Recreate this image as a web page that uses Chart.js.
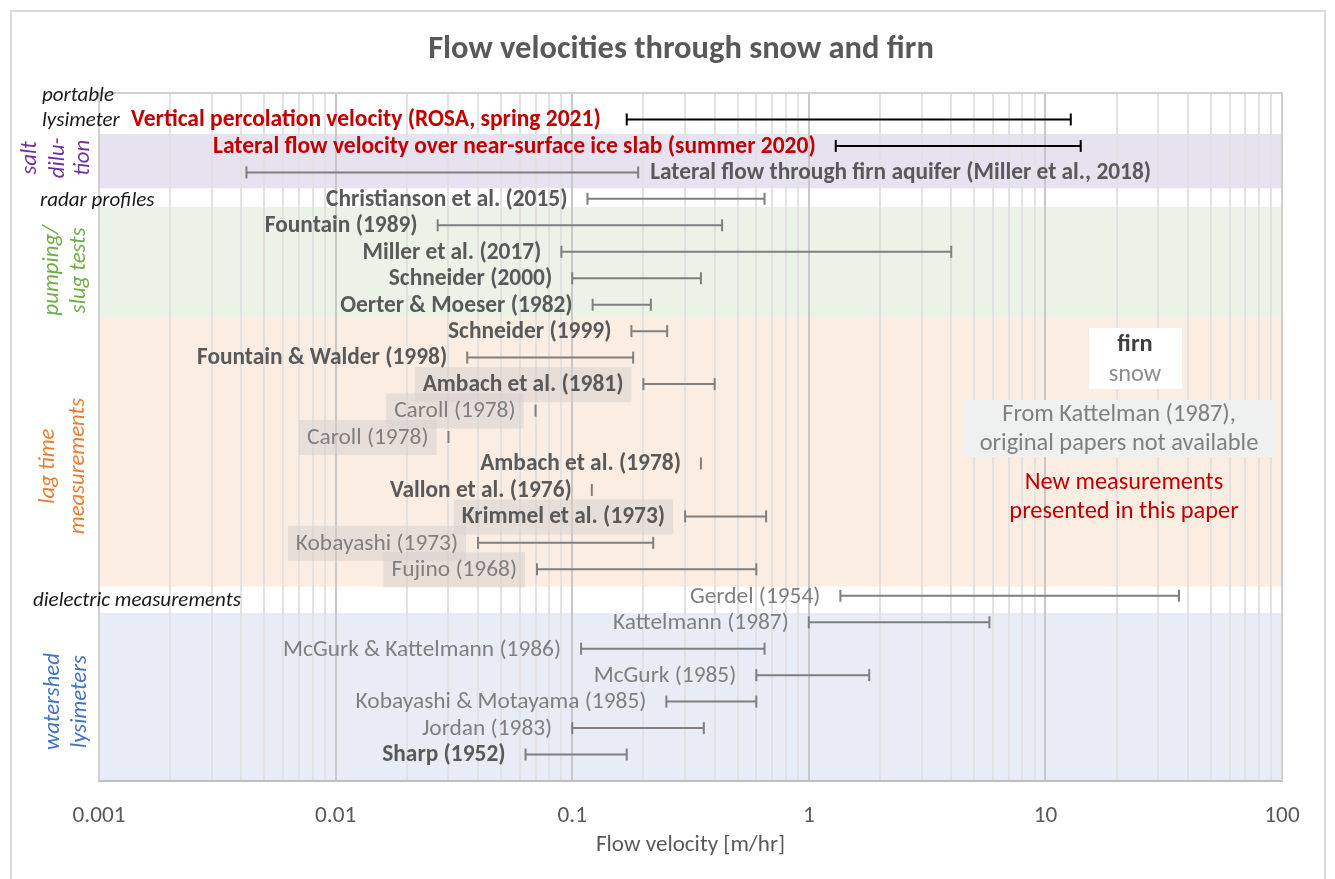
<!DOCTYPE html>
<html>
<head>
<meta charset="utf-8">
<title>Flow velocities through snow and firn</title>
<script src="https://cdn.jsdelivr.net/npm/chart.js@4.4.1/dist/chart.umd.min.js"></script>
<style>
  body { margin: 0; background: #fff; }
  #frame { position: absolute; left: 10px; top: 10px; width: 1316px; height: 900px; border: 2px solid #d9d9d9; box-sizing: border-box; }
  #chart { position: absolute; left: 0; top: 0; }
</style>
</head>
<body>
<div id="frame"></div>
<canvas id="chart" width="1335" height="879"></canvas>
<script>
// --- data (flow velocity in m/hr) ---
const rowLabels = [
  'Vertical percolation velocity (ROSA, spring 2021)',
  'Lateral flow velocity over near-surface ice slab (summer 2020)',
  'Lateral flow through firn aquifer (Miller et al., 2018)',
  'Christianson et al. (2015)',
  'Fountain (1989)',
  'Miller et al. (2017)',
  'Schneider (2000)',
  'Oerter & Moeser (1982)',
  'Schneider (1999)',
  'Fountain & Walder (1998)',
  'Ambach et al. (1981)',
  'Caroll (1978)',
  'Caroll (1978)',
  'Ambach et al. (1978)',
  'Vallon et al. (1976)',
  'Krimmel et al. (1973)',
  'Kobayashi (1973)',
  'Fujino (1968)',
  'Gerdel (1954)',
  'Kattelmann (1987)',
  'McGurk & Kattelmann (1986)',
  'McGurk (1985)',
  'Kobayashi & Motayama (1985)',
  'Jordan (1983)',
  'Sharp (1952)'
];
const lowValues  = [0.17, 1.3, 0.0042, 0.116, 0.027, 0.09, 0.1, 0.122, 0.178, 0.036, 0.2, 0.07, 0.03, 0.35, 0.121, 0.3, 0.04, 0.071, 1.36, 1.0, 0.109, 0.6, 0.25, 0.1, 0.0635];
const highValues = [12.8, 14.1, 0.19, 0.65, 0.43, 4.0, 0.35, 0.215, 0.252, 0.181, 0.4, null, null, null, null, 0.66, 0.22, 0.6, 36.7, 5.8, 0.65, 1.8, 0.6, 0.36, 0.17];
// new = this paper, firn = bold, snow = regular
const sampleKind = ['new', 'new', 'firn', 'firn', 'firn', 'firn', 'firn', 'firn', 'firn', 'firn', 'firn', 'snow', 'snow',
                    'firn', 'firn', 'firn', 'snow', 'snow', 'snow', 'snow', 'snow', 'snow', 'snow', 'snow', 'firn'];
// rows quoted from Kattelman (1987)
const kattelmannRows = [10, 11, 12, 15, 16, 17];
const labelRightRows = [2];

// method groups (shaded bands) in row units
const groupLines  = [['salt', 'dilu-', 'tion'], ['pumping/', 'slug tests'], ['lag time', 'measurements'], ['watershed', 'lysimeters']];
const groupBands  = [[0.55, 2.6], [3.3, 7.5], [7.5, 17.65], [18.65, 25]];
const groupCenter = [1.45, 5.7, 13.1, 22.0];
const methodLabels = ['portable', 'lysimeter', 'radar profiles', 'dielectric measurements'];
const methodRows   = [-0.9, 0.05, 3.08, 18.2];

const tickLabels = ['0.001', '0.01', '0.1', '1', '10', '100'];
const decadeStarts = [0.001, 0.01, 0.1, 1, 10, 100];

// --- styles ---
const FONT = 'Carlito, Calibri, Lato, sans-serif';
const groupColors = ['#7030a0', '#70ad47', '#ed7d31', '#4472c4'];
const groupFills  = ['#e7e2f0', '#ebf3e6', '#fcede3', '#e8ecf6'];
const groupX      = [[30, 58, 83], [52, 79], [48, 78], [53, 80]];

const measureCtx = document.createElement('canvas').getContext('2d');
function fitSize(sample, width, weight = 'normal', style = 'normal') {
  measureCtx.font = `${style} ${weight} 100px ${FONT}`;
  return Math.round(1000 * width / measureCtx.measureText(sample).width) / 10;
}
const SIZE_BOLD   = fitSize('Fountain & Walder (1998)', 250, 'bold');
const SIZE_REG    = fitSize('McGurk & Kattelmann (1986)', 278);
const SIZE_RED    = fitSize('Lateral flow velocity over near-surface ice slab (summer 2020)', 603, 'bold');
const SIZE_TITLE  = fitSize('Flow velocities through snow and firn', 506, 'bold');
const SIZE_METHOD = fitSize('dielectric measurements', 208, 'normal', 'italic');
const SIZE_GROUP  = fitSize('measurements', 136, 'normal', 'italic');
const SIZE_TICK   = fitSize('0.001', 53);
const SIZE_AXIS   = fitSize('Flow velocity [m/hr]', 189);
const SIZE_LEGEND = fitSize('original papers not available', 279);

function labelFont(kind) {
  if (kind === 'new') return `bold ${SIZE_RED}px ${FONT}`;
  if (kind === 'firn') return `bold ${SIZE_BOLD}px ${FONT}`;
  return `${SIZE_REG}px ${FONT}`;
}
function labelColor(kind) {
  return kind === 'new' ? '#c00000' : kind === 'firn' ? '#595959' : '#7f7f7f';
}

// shaded method bands + plot frame, below the grid
const bandPlugin = {
  id: 'bands',
  beforeDraw(chart) {
    const { ctx, chartArea: a, scales: { y } } = chart;
    ctx.save();
    groupBands.forEach((b, g) => {
      const y0 = y.getPixelForValue(b[0]);
      const y1 = y.getPixelForValue(b[1]);
      ctx.fillStyle = groupFills[g];
      ctx.fillRect(a.left, y0, a.right - a.left, y1 - y0);
    });
    ctx.restore();
  },
  beforeDatasetsDraw(chart) {
    const { ctx, chartArea: a, scales: { x, y } } = chart;
    ctx.save();
    ctx.strokeStyle = '#d0d0d0';
    ctx.lineWidth = 2;
    ctx.beginPath();
    ctx.moveTo(a.left, a.bottom); ctx.lineTo(a.left, a.top);
    ctx.lineTo(a.right, a.top); ctx.lineTo(a.right, a.bottom);
    ctx.stroke();
    // grey boxes behind labels taken from Kattelman (1987)
    ctx.fillStyle = 'rgba(212,208,205,0.5)';
    kattelmannRows.forEach(i => {
      ctx.font = labelFont(sampleKind[i]);
      const w = ctx.measureText(rowLabels[i]).width;
      const right = x.getPixelForValue(lowValues[i]) - 20;
      ctx.fillRect(right - w - 8, y.getPixelForValue(i) - 17, w + 16, 35);
    });
    ctx.restore();
  }
};

// row labels, group labels, legend and title
const textPlugin = {
  id: 'texts',
  afterDatasetsDraw(chart) {
    const { ctx, chartArea: a, scales: { x, y } } = chart;
    ctx.save();
    ctx.textBaseline = 'middle';
    rowLabels.forEach((name, i) => {
      const kind = sampleKind[i];
      ctx.font = labelFont(kind);
      ctx.fillStyle = labelColor(kind);
      const py = y.getPixelForValue(i) + 1;
      if (labelRightRows.includes(i)) {
        ctx.textAlign = 'left';
        ctx.fillText(name, x.getPixelForValue(highValues[i]) + 12, py);
      } else {
        ctx.textAlign = 'right';
        ctx.fillText(name, x.getPixelForValue(lowValues[i]) - (i === 0 ? 26 : 20), py);
      }
    });

    // method labels outside the plot
    ctx.textAlign = 'left';
    ctx.fillStyle = '#1a1a1a';
    ctx.font = `italic ${SIZE_METHOD}px ${FONT}`;
    const methodX = [42, 42, 40, 33];
    methodLabels.forEach((t, k) => ctx.fillText(t, methodX[k], y.getPixelForValue(methodRows[k])));

    // rotated group labels
    ctx.textAlign = 'center';
    ctx.font = `italic ${SIZE_GROUP}px ${FONT}`;
    groupLines.forEach((lines, g) => {
      ctx.fillStyle = groupColors[g];
      const cy = y.getPixelForValue(groupCenter[g]);
      lines.forEach((t, k) => {
        ctx.save();
        ctx.translate(groupX[g][k], cy);
        ctx.rotate(-Math.PI / 2);
        ctx.fillText(t, 0, 0);
        ctx.restore();
      });
    });

    // legend
    ctx.fillStyle = '#ffffff';
    ctx.fillRect(1089, 328, 93, 61);
    ctx.fillStyle = '#eff0f0';
    ctx.fillRect(963, 400, 312, 57);
    ctx.font = `bold ${SIZE_LEGEND}px ${FONT}`;
    ctx.fillStyle = '#404040';
    ctx.fillText('firn', 1135, 345);
    ctx.font = `${SIZE_LEGEND}px ${FONT}`;
    ctx.fillStyle = '#8c8c8c';
    ctx.fillText('snow', 1135, 375);
    ctx.fillStyle = '#7f7f7f';
    ctx.fillText('From Kattelman (1987),', 1119, 415);
    ctx.fillText('original papers not available', 1119, 444);
    ctx.fillStyle = '#c00000';
    ctx.fillText('New measurements', 1124, 483);
    ctx.fillText('presented in this paper', 1124, 512);

    // title
    ctx.font = `bold ${SIZE_TITLE}px ${FONT}`;
    ctx.fillStyle = '#595959';
    ctx.fillText('Flow velocities through snow and firn', 681, 50);
    ctx.restore();
  }
};

new Chart(document.getElementById('chart'), {
  type: 'scatter',
  data: {
    datasets: rowLabels.map((name, i) => {
      const col = sampleKind[i] === 'new' ? '#000000' : '#7f7f7f';
      const pts = highValues[i] == null
        ? [{ x: lowValues[i], y: i }]
        : [{ x: lowValues[i], y: i }, { x: highValues[i], y: i }];
      return {
        label: name,
        data: pts,
        showLine: true,
        borderColor: col,
        backgroundColor: col,
        borderWidth: 2,
        pointStyle: 'line',
        pointRotation: 90,
        pointRadius: 6,
        pointHoverRadius: 6,
        pointBorderWidth: 2,
        pointBorderColor: col
      };
    })
  },
  options: {
    responsive: false,
    animation: false,
    events: [],
    layout: { padding: { left: 99, right: 53, top: 93, bottom: 0 } },
    plugins: {
      legend: { display: false },
      tooltip: { enabled: false },
      title: { display: false }
    },
    scales: {
      x: {
        type: 'logarithmic',
        min: 0.001,
        max: 100,
        afterFit: s => { s.height = 98; },
        afterBuildTicks: scale => {
          const ticks = [];
          decadeStarts.forEach((d, k) => {
            const steps = k === decadeStarts.length - 1 ? [1] : [1, 2, 3, 4, 5, 6, 7, 8, 9];
            steps.forEach(m => ticks.push({ value: +(d * m).toPrecision(3), major: m === 1 }));
          });
          scale.ticks = ticks;
        },
        grid: {
          drawTicks: false,
          color: c => (c.tick && c.tick.major ? '#c8c8c8' : '#e2e2e2'),
          lineWidth: 2
        },
        border: { display: true, color: '#bfbfbf', width: 2 },
        ticks: {
          autoSkip: false,
          maxRotation: 0,
          padding: 21,
          color: '#595959',
          font: { family: FONT, size: SIZE_TICK },
          callback: (v, i, ticks) => (ticks[i].major ? tickLabels[Math.round(Math.log10(v)) + 3] : '')
        },
        title: {
          display: true,
          text: 'Flow velocity [m/hr]',
          color: '#595959',
          font: { family: FONT, size: SIZE_AXIS },
          padding: { top: 0, bottom: 20 }
        }
      },
      y: { type: 'linear', min: -1, max: 25, reverse: true, display: false }
    }
  },
  plugins: [bandPlugin, textPlugin]
});
</script>
</body>
</html>
